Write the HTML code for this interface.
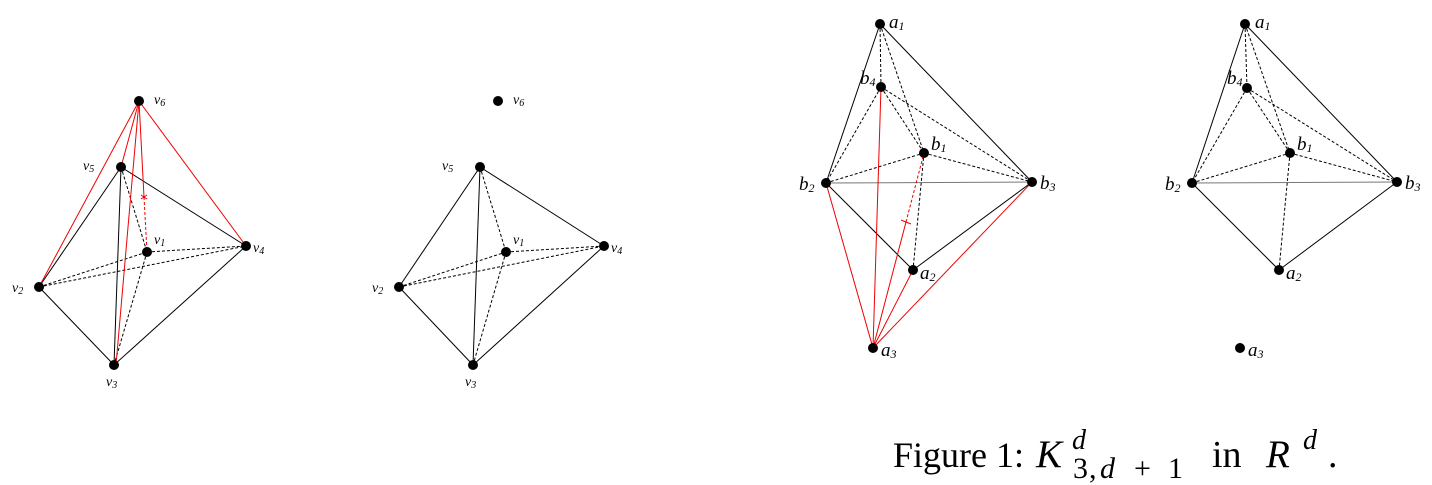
<!DOCTYPE html>
<html><head><meta charset="utf-8"><style>
html,body{margin:0;padding:0;background:#fff;width:1432px;height:485px;overflow:hidden}
svg{position:absolute;left:0;top:0}
text{font-family:"Liberation Serif",serif;font-style:italic}
.n{font-style:normal}
</style></head><body>
<svg width="1432" height="485" viewBox="0 0 1432 485">
<g stroke-width="1" fill="none">
<g stroke="#000">
<line x1="121" y1="167" x2="39" y2="287"/><line x1="121" y1="167" x2="246" y2="246"/>
<line x1="121" y1="167" x2="114" y2="365"/><line x1="39" y1="287" x2="114" y2="365"/>
<line x1="114" y1="365" x2="246" y2="246"/>
</g>
<g stroke="#000" stroke-dasharray="3,2">
<line x1="121" y1="167" x2="147" y2="252"/><line x1="39" y1="287" x2="147" y2="252"/>
<line x1="39" y1="287" x2="246" y2="246"/><line x1="147" y1="252" x2="246" y2="246"/>
<line x1="147" y1="252" x2="114" y2="365"/>
</g>
<g stroke="#e00">
<line x1="139" y1="101" x2="39" y2="287"/><line x1="139" y1="101" x2="246" y2="246"/>
<line x1="139" y1="101" x2="121" y2="167"/><line x1="139" y1="101" x2="116" y2="365"/>
<line x1="139" y1="101" x2="144" y2="197"/>
<line x1="144" y1="197" x2="147" y2="252" stroke-dasharray="3,2"/>
<line x1="141" y1="195" x2="147" y2="199"/><line x1="147" y1="195" x2="141" y2="199"/>
</g>
<g stroke="#000">
<line x1="480" y1="167" x2="399" y2="287"/><line x1="480" y1="167" x2="604" y2="246"/>
<line x1="480" y1="167" x2="473" y2="365"/><line x1="399" y1="287" x2="473" y2="365"/>
<line x1="473" y1="365" x2="604" y2="246"/>
</g>
<g stroke="#000" stroke-dasharray="3,2">
<line x1="480" y1="167" x2="506" y2="252"/><line x1="399" y1="287" x2="506" y2="252"/>
<line x1="399" y1="287" x2="604" y2="246"/><line x1="506" y1="252" x2="604" y2="246"/>
<line x1="506" y1="252" x2="473" y2="365"/>
</g>
<g stroke="#000">
<line x1="880" y1="24" x2="826" y2="183"/><line x1="880" y1="24" x2="1032" y2="182"/>
<line x1="826" y1="183" x2="1032" y2="182" stroke="#777"/><line x1="826" y1="183" x2="913" y2="270"/>
<line x1="913" y1="270" x2="1032" y2="182"/>
</g>
<g stroke="#000" stroke-dasharray="3,2">
<line x1="880" y1="24" x2="881" y2="87"/><line x1="880" y1="24" x2="924" y2="153"/>
<line x1="881" y1="87" x2="826" y2="183"/><line x1="881" y1="87" x2="924" y2="153"/>
<line x1="881" y1="87" x2="1032" y2="182"/><line x1="826" y1="183" x2="924" y2="153"/>
<line x1="924" y1="153" x2="1032" y2="182"/><line x1="924" y1="153" x2="913" y2="270"/>
</g>
<g stroke="#e00">
<line x1="873" y1="348" x2="826" y2="183"/><line x1="873" y1="348" x2="881" y2="87"/>
<line x1="873" y1="348" x2="913" y2="270"/><line x1="873" y1="348" x2="1032" y2="182"/>
<line x1="873" y1="348" x2="906" y2="222"/>
<line x1="906" y1="222" x2="924" y2="153" stroke-dasharray="3,2"/>
<line x1="901" y1="220" x2="911" y2="224"/>
</g>
<g stroke="#000">
<line x1="1245" y1="24" x2="1192" y2="183"/><line x1="1245" y1="24" x2="1397" y2="182"/>
<line x1="1192" y1="183" x2="1397" y2="182" stroke="#777"/><line x1="1192" y1="183" x2="1279" y2="270"/>
<line x1="1279" y1="270" x2="1397" y2="182"/>
</g>
<g stroke="#000" stroke-dasharray="3,2">
<line x1="1245" y1="24" x2="1247" y2="88"/><line x1="1245" y1="24" x2="1290" y2="153"/>
<line x1="1247" y1="88" x2="1192" y2="183"/><line x1="1247" y1="88" x2="1290" y2="153"/>
<line x1="1247" y1="88" x2="1397" y2="182"/><line x1="1192" y1="183" x2="1290" y2="153"/>
<line x1="1290" y1="153" x2="1397" y2="182"/><line x1="1290" y1="153" x2="1279" y2="270"/>
</g>
</g>
<g fill="#000">
<circle cx="139" cy="101" r="5"/><circle cx="121" cy="167" r="5"/><circle cx="147" cy="252" r="5"/>
<circle cx="246" cy="246" r="5"/><circle cx="39" cy="287" r="5"/><circle cx="114" cy="365" r="5"/>
<circle cx="498" cy="101" r="5"/><circle cx="480" cy="167" r="5"/><circle cx="506" cy="252" r="5"/>
<circle cx="604" cy="246" r="5"/><circle cx="399" cy="287" r="5"/><circle cx="473" cy="365" r="5"/>
<circle cx="880" cy="24" r="5"/><circle cx="881" cy="87" r="5"/><circle cx="924" cy="153" r="5"/>
<circle cx="826" cy="183" r="5"/><circle cx="1032" cy="182" r="5"/><circle cx="913" cy="270" r="5"/><circle cx="873" cy="348" r="5"/>
<circle cx="1245" cy="24" r="5"/><circle cx="1247" cy="88" r="5"/><circle cx="1290" cy="153" r="5"/>
<circle cx="1192" cy="183" r="5"/><circle cx="1397" cy="182" r="5"/><circle cx="1279" cy="270" r="5"/><circle cx="1240" cy="348" r="5"/>
</g>
<g font-size="14" fill="#000">
<text x="154" y="104">v<tspan font-size="10" dy="2">6</tspan></text>
<text x="83" y="170">v<tspan font-size="10" dy="2">5</tspan></text>
<text x="154" y="244">v<tspan font-size="10" dy="2">1</tspan></text>
<text x="253" y="252">v<tspan font-size="10" dy="2">4</tspan></text>
<text x="12" y="292">v<tspan font-size="10" dy="2">2</tspan></text>
<text x="106" y="386">v<tspan font-size="10" dy="2">3</tspan></text>
<text x="513" y="104">v<tspan font-size="10" dy="2">6</tspan></text>
<text x="442" y="170">v<tspan font-size="10" dy="2">5</tspan></text>
<text x="513" y="244">v<tspan font-size="10" dy="2">1</tspan></text>
<text x="611" y="252">v<tspan font-size="10" dy="2">4</tspan></text>
<text x="372" y="292">v<tspan font-size="10" dy="2">2</tspan></text>
<text x="465" y="386">v<tspan font-size="10" dy="2">3</tspan></text>
</g>
<g font-size="19" fill="#000">
<text x="889" y="28">a<tspan font-size="12" dy="2">1</tspan></text>
<text x="860" y="84">b<tspan font-size="12" dy="2">4</tspan></text>
<text x="931" y="150">b<tspan font-size="12" dy="2">1</tspan></text>
<text x="799" y="190">b<tspan font-size="12" dy="2">2</tspan></text>
<text x="1040" y="189">b<tspan font-size="12" dy="2">3</tspan></text>
<text x="920" y="279">a<tspan font-size="12" dy="2">2</tspan></text>
<text x="881" y="356">a<tspan font-size="12" dy="2">3</tspan></text>
<text x="1255" y="28">a<tspan font-size="12" dy="2">1</tspan></text>
<text x="1227" y="84">b<tspan font-size="12" dy="2">4</tspan></text>
<text x="1297" y="150">b<tspan font-size="12" dy="2">1</tspan></text>
<text x="1165" y="190">b<tspan font-size="12" dy="2">2</tspan></text>
<text x="1405" y="189">b<tspan font-size="12" dy="2">3</tspan></text>
<text x="1286" y="279">a<tspan font-size="12" dy="2">2</tspan></text>
<text x="1248" y="356">a<tspan font-size="12" dy="2">3</tspan></text>
</g>
<g fill="#000">
<text class="n" x="893" y="467" font-size="36">Figure 1:</text>
<text x="1036" y="467" font-size="39">K</text>
<text x="1072" y="449" font-size="28">d</text>
<text class="n" x="1073" y="478" font-size="30">3</text>
<text class="n" x="1089" y="478" font-size="30">,</text>
<text x="1100" y="478" font-size="30">d</text>
<text class="n" x="1134" y="478" font-size="30">+</text>
<text class="n" x="1168" y="478" font-size="30">1</text>
<text class="n" x="1212" y="467" font-size="38">in</text>
<text x="1266" y="467" font-size="39">R</text>
<text x="1303" y="449" font-size="28">d</text>
<text class="n" x="1328" y="467" font-size="38">.</text>
</g>
</svg>
</body></html>
